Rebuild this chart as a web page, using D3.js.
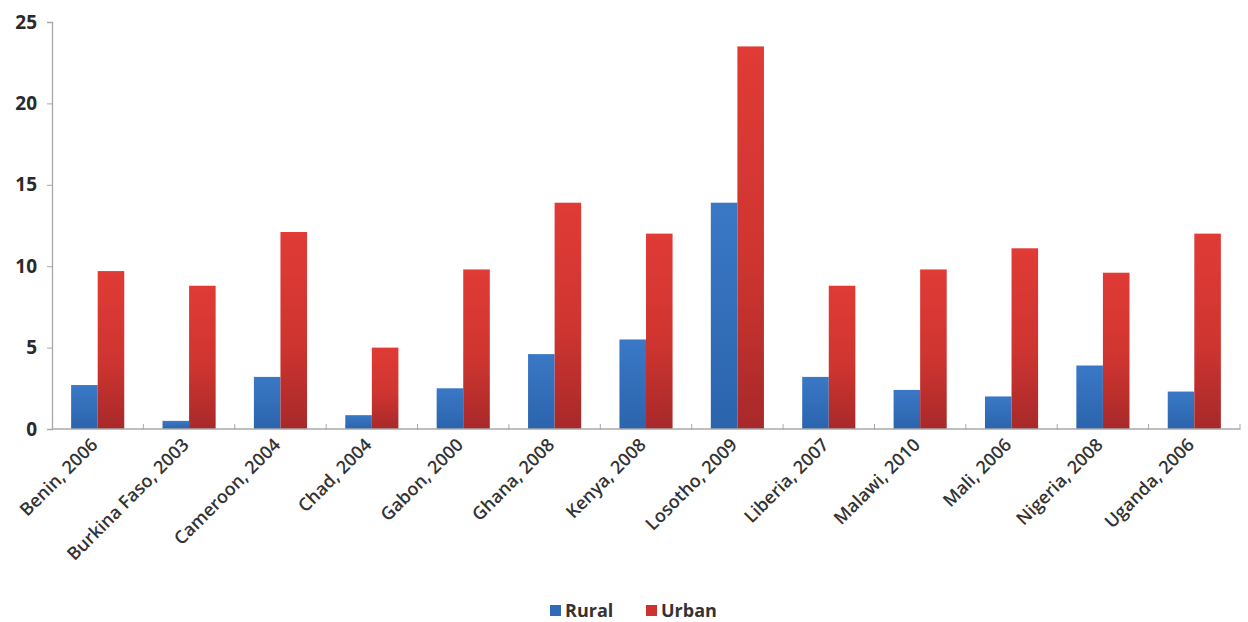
<!DOCTYPE html>
<html>
<head>
<meta charset="utf-8">
<script src="https://cdn.jsdelivr.net/npm/d3@7/dist/d3.min.js"></script>
<style>
  html, body { margin: 0; padding: 0; background: #fff; }
  svg { display: block; }
  text { font-family: "Open Sans", "Liberation Sans", sans-serif; }
</style>
</head>
<body>
<svg id="chart" width="1248" height="622"></svg>
<script>
// Survey labels (country, year)
const categories = [
  "Benin, 2006", "Burkina Faso, 2003", "Cameroon, 2004", "Chad, 2004",
  "Gabon, 2000", "Ghana, 2008", "Kenya, 2008", "Losotho, 2009",
  "Liberia, 2007", "Malawi, 2010", "Mali, 2006", "Nigeria, 2008", "Uganda, 2006"
];
const seriesNames = ["Rural", "Urban"];
const rural = [2.7, 0.5, 3.2, 0.85, 2.5, 4.6, 5.5, 13.9, 3.2, 2.4, 2.0, 3.9, 2.3];
const urban = [9.7, 8.8, 12.1, 5.0, 9.8, 13.9, 12.0, 23.5, 8.8, 9.8, 11.1, 9.6, 12.0];
const yTicks = [0, 5, 10, 15, 20, 25];

const svg = d3.select("#chart");
const margin = { left: 52, right: 8, top: 22, bottom: 193 };
const W = 1248, H = 622;
const x0 = margin.left, x1 = W - margin.right;
const yBottom = H - margin.bottom, yTop = margin.top;

// Gradients for bar fills
const defs = svg.append("defs");
const gBlue = defs.append("linearGradient").attr("id", "gBlue")
  .attr("x1", 0).attr("y1", 0).attr("x2", 0).attr("y2", 1);
gBlue.append("stop").attr("offset", "0%").attr("stop-color", "#3a78c6");
gBlue.append("stop").attr("offset", "100%").attr("stop-color", "#2b64ad");
const gRed = defs.append("linearGradient").attr("id", "gRed")
  .attr("x1", 0).attr("y1", 0).attr("x2", 0).attr("y2", 1);
gRed.append("stop").attr("offset", "0%").attr("stop-color", "#e03b36");
gRed.append("stop").attr("offset", "55%").attr("stop-color", "#cf3530");
gRed.append("stop").attr("offset", "100%").attr("stop-color", "#a8292a");

const x = d3.scaleBand().domain(categories).range([x0, x1]).paddingInner(0).paddingOuter(0);
const xs = d3.scaleBand().domain(seriesNames).range([0, x.bandwidth()]).paddingInner(0).paddingOuter(0.72);
const y = d3.scaleLinear().domain([0, 25]).range([yBottom, yTop]);

const fills = { Rural: "url(#gBlue)", Urban: "url(#gRed)" };
const data = categories.map((c, i) => ({ cat: c, Rural: rural[i], Urban: urban[i] }));

// Bars
const groups = svg.append("g").selectAll("g").data(data).join("g")
  .attr("transform", d => `translate(${x(d.cat)},0)`);
groups.selectAll("rect").data(d => seriesNames.map(s => ({ s, v: d[s] }))).join("rect")
  .attr("x", d => xs(d.s))
  .attr("width", xs.bandwidth())
  .attr("y", d => y(d.v))
  .attr("height", d => y(0) - y(d.v))
  .attr("fill", d => fills[d.s]);

// Y axis
const yAxis = svg.append("g").attr("transform", `translate(${x0},0)`)
  .call(d3.axisLeft(y).tickValues(yTicks).tickSize(5).tickPadding(10));
yAxis.select(".domain").attr("stroke", "#a8a8a8").attr("stroke-width", 1.3);
yAxis.selectAll(".tick line").attr("stroke", "#a8a8a8");
yAxis.selectAll(".tick text").attr("fill", "#2a2a2a").attr("font-size", 19)
  .attr("font-weight", "bold").attr("font-family", "\"Open Sans\", sans-serif");

// X axis line with boundary ticks
const xAxisG = svg.append("g");
xAxisG.append("line").attr("x1", x0).attr("x2", x1).attr("y1", yBottom).attr("y2", yBottom)
  .attr("stroke", "#a8a8a8").attr("stroke-width", 1.3);
xAxisG.selectAll("line.tk").data(categories.slice(1).concat(["__end"])).join("line")
  .attr("class", "tk")
  .attr("x1", d => d === "__end" ? x1 : x(d))
  .attr("x2", d => d === "__end" ? x1 : x(d))
  .attr("y1", yBottom - 5).attr("y2", yBottom + 1)
  .attr("stroke", "#a8a8a8");

// Rotated category labels
xAxisG.selectAll("text").data(categories).join("text")
  .attr("transform", d => `translate(${x(d) + x.bandwidth() / 2 + 1},${yBottom + 17}) rotate(-45)`)
  .attr("text-anchor", "end")
  .attr("font-size", 18)
  .attr("font-weight", 600)
  .attr("fill", "#333")
  .text(d => d);

// Legend
const legend = svg.append("g").attr("transform", "translate(550,617)");
const items = [{ s: "Rural", c: "#2f6cb8", dx: 0 }, { s: "Urban", c: "#cc3330", dx: 96 }];
items.forEach(it => {
  legend.append("rect").attr("x", it.dx).attr("y", -12).attr("width", 11).attr("height", 11).attr("fill", it.c);
  legend.append("text").attr("x", it.dx + 15).attr("y", 0)
    .attr("font-size", 18).attr("font-weight", "bold").attr("fill", "#333").text(it.s);
});
</script>
</body>
</html>
